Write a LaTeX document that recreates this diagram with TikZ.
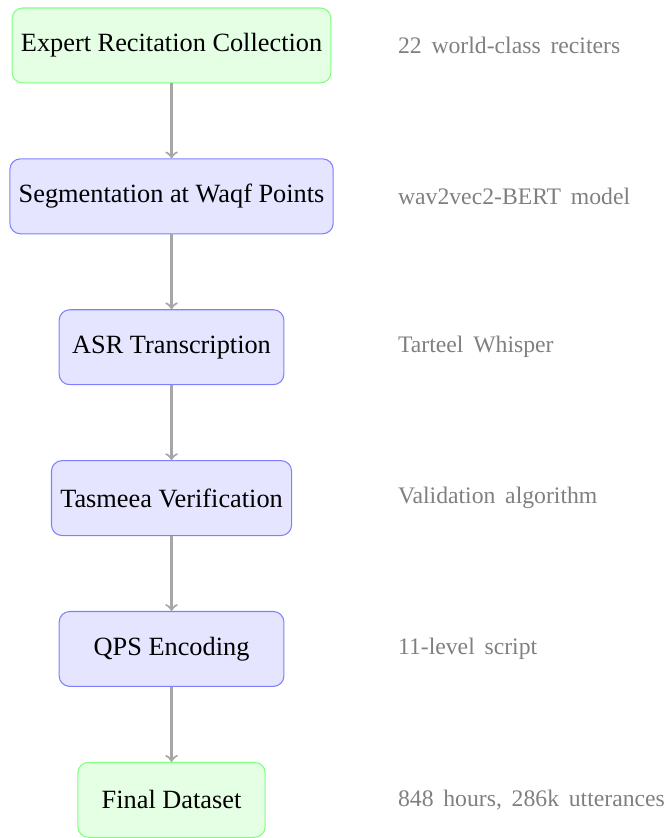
\documentclass[tikz,border=0pt]{standalone}
\usepackage{fontspec}
\setmainfont{Liberation Serif}
\newfontfamily\notefont[WordSpace=1.65]{Liberation Serif}
\usetikzlibrary{positioning}

\begin{document}
\begin{tikzpicture}[node distance=1cm,
  stepbox/.style={rectangle, rounded corners, draw=blue!50, fill=blue!10, minimum width=3cm, minimum height=1cm, align=center},
  endbox/.style={rectangle, rounded corners, draw=green!50, fill=green!10, minimum width=2.5cm, minimum height=1cm, align=center},
  note/.style={text=gray, font=\notefont\small},
  flow/.style={->, thick, gray!70}]
\useasboundingbox (-2.29,0.607) rectangle (6.60,-10.58);

% pipeline steps
\node[endbox] (collect) {Expert Recitation Collection};
\node[stepbox, below=of collect] (segment) {Segmentation at Waqf Points};
\node[stepbox, below=of segment] (asr) {ASR Transcription};
\node[stepbox, below=of asr] (tasmeea) {Tasmeea Verification};
\node[stepbox, below=of tasmeea] (qps) {QPS Encoding};
\node[endbox, below=of qps] (final) {Final Dataset};

% side notes
\node[note, right=2.9cm of collect.center] (ncollect) {22 world-class reciters};
\node[note, right=2.9cm of segment.center] (nsegment) {wav2vec2-BERT model};
\node[note, right=2.9cm of asr.center] (nasr) {Tarteel Whisper};
\node[note, right=2.9cm of tasmeea.center] (ntasmeea) {Validation algorithm};
\node[note, right=2.9cm of qps.center] (nqps) {11-level script};
\node[note, right=2.9cm of final.center] (nfinal) {848 hours, 286k utterances};

% arrows
\draw[flow] (collect) -- (segment);
\draw[flow] (segment) -- (asr);
\draw[flow] (asr) -- (tasmeea);
\draw[flow] (tasmeea) -- (qps);
\draw[flow] (qps) -- (final);
\end{tikzpicture}
\end{document}
